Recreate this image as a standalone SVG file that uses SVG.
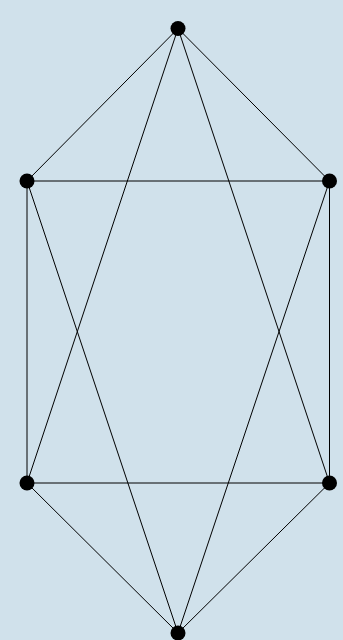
<svg xmlns="http://www.w3.org/2000/svg" width="343" height="640" viewBox="0 0 343 640">
<style>
.e{stroke:#000;stroke-width:1;fill:none}
.n{fill:#000}
</style>
<rect width="343" height="640" fill="#d0e1eb"/>
<g id="edges" class="e">
<line x1="178" y1="28.5" x2="27" y2="181"/>
<line x1="178" y1="28.5" x2="329.5" y2="181"/>
<line x1="178" y1="28.5" x2="27" y2="483"/>
<line x1="178" y1="28.5" x2="329.5" y2="483"/>
<line x1="27" y1="181" x2="329.5" y2="181"/>
<line x1="27" y1="181" x2="27" y2="483"/>
<line x1="329.5" y1="181" x2="329.5" y2="483"/>
<line x1="27" y1="483" x2="329.5" y2="483"/>
<line x1="27" y1="181" x2="178" y2="633"/>
<line x1="329.5" y1="181" x2="178" y2="633"/>
<line x1="27" y1="483" x2="178" y2="633"/>
<line x1="329.5" y1="483" x2="178" y2="633"/>
</g>
<g id="n1"><circle class="n" cx="178" cy="28.5" r="7.5"/></g>
<g id="n2"><circle class="n" cx="27" cy="181" r="7.5"/></g>
<g id="n3"><circle class="n" cx="329.5" cy="181" r="7.5"/></g>
<g id="n4"><circle class="n" cx="27" cy="483" r="7.5"/></g>
<g id="n5"><circle class="n" cx="329.5" cy="483" r="7.5"/></g>
<g id="n6"><circle class="n" cx="178" cy="633" r="7.5"/></g>
</svg>
